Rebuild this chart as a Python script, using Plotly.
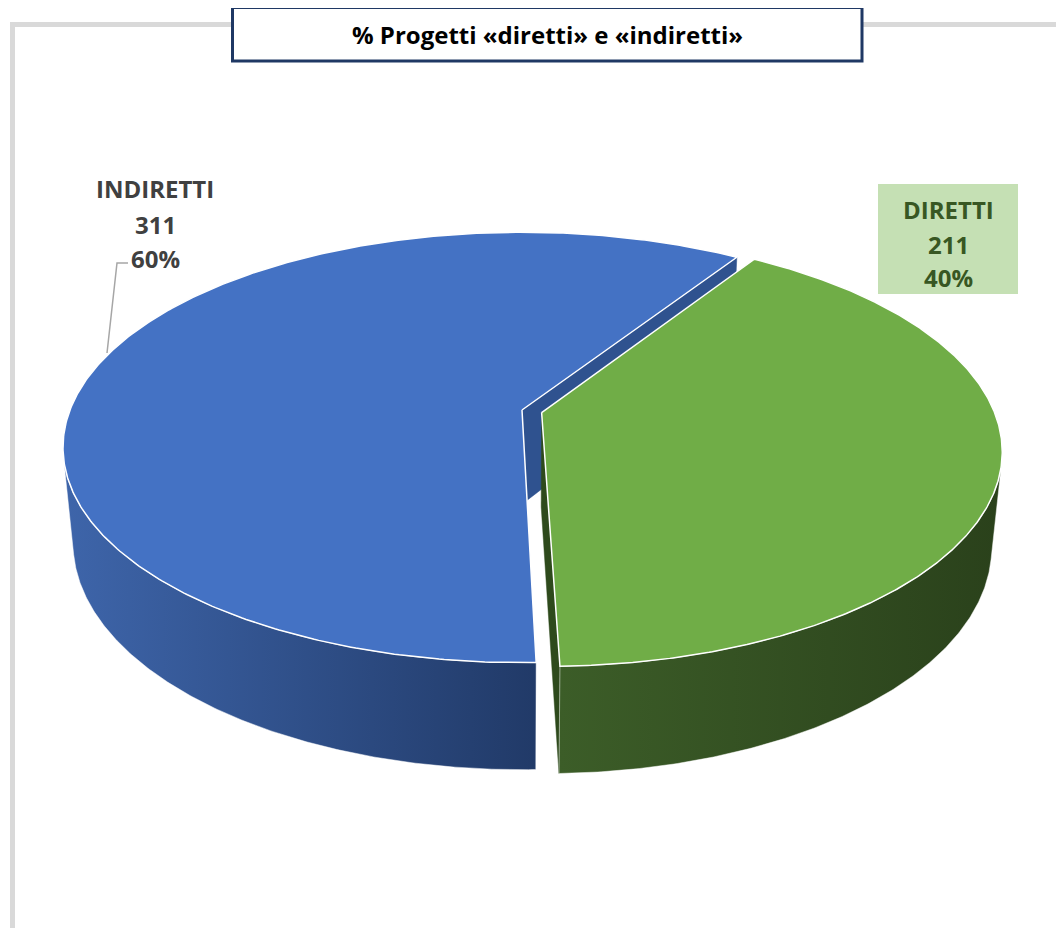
import numpy as np
import plotly.graph_objects as go

# ---------------- data ----------------
labels = ["DIRETTI", "INDIRETTI"]
values = [211, 311]
title_text = "% Progetti «diretti» e «indiretti»"

# ---------------- style ----------------
top_colors = ["#70AD47", "#4472C4"]
wall_colors = [["#3c5d28", "#2a411b"], ["#3e65aa", "#213a68"]]
face_colors = ["#2e4a1c", "#2f528f"]
explode = [0.045, 0.0]
first_angle = 33.0          # degrees, clockwise from the back

# projection constants (pixel space)
CX, CY, K = 522.0, 410.0, 452.0
ALPHA = np.radians(27.5)
DIST = 5.1
DEPTH = 0.24
W, H = 1064, 928
OFF = 8  # page body margin compensation

ca, sa = np.cos(ALPHA), np.sin(ALPHA)
CAM = np.array([0.0, -DIST * ca, DIST * sa])


def project(X, Y, Z):
    X = np.asarray(X, float); Y = np.asarray(Y, float); Z = np.asarray(Z, float)
    v = Z * ca + Y * sa
    d = Y * ca - Z * sa
    s = DIST / (DIST + d)
    return CX + K * X * s, CY - K * v * s


def rim(theta_deg, ox, oy, z):
    t = np.radians(theta_deg)
    return project(ox + np.sin(t), oy + np.cos(t), np.full_like(t, z, dtype=float))


total = float(sum(values))
spans = [360.0 * v / total for v in values]
starts = []
a = first_angle
for sp in spans:
    starts.append(a)
    a += sp

# visible wall range
cmax = -1.0 / (DIST * ca)
th_lo = np.degrees(np.arccos(cmax))
th_hi = 360.0 - th_lo

fig = go.Figure()


def add_poly(x, y, **kw):
    fig.add_trace(go.Scatter(x=list(x), y=list(y), mode="lines", fill="toself",
                             hoverinfo="skip", showlegend=False, **kw))


order = sorted(range(len(values)), key=lambda i: explode[i])
for i in order:
    a0, a1 = starts[i], starts[i] + spans[i]
    mid = np.radians((a0 + a1) / 2)
    ox, oy = explode[i] * np.sin(mid), explode[i] * np.cos(mid)

    # radial faces
    for edge, sign in ((a1, 1.0), (a0, -1.0)):
        t = np.radians(edge)
        n = sign * np.array([np.cos(t), -np.sin(t), 0.0])
        if np.dot(CAM - np.array([ox, oy, 0.0]), n) > 0:
            px = [ox, ox + np.sin(t), ox + np.sin(t), ox]
            py = [oy, oy + np.cos(t), oy + np.cos(t), oy]
            pz = [0, 0, -DEPTH, -DEPTH]
            fx, fy = project(px, py, pz)
            add_poly(np.append(fx, fx[0]), np.append(fy, fy[0]),
                     fillcolor=face_colors[i], line=dict(color=face_colors[i], width=0.5))

    # outer wall
    for shift in (0.0, 360.0, -360.0):
        lo = max(a0, th_lo + shift)
        hi = min(a1, th_hi + shift)
        if hi > lo:
            th = np.linspace(lo, hi, 200)
            tx, ty = rim(th, ox, oy, 0.0)
            bx, by = rim(th[::-1], ox, oy, -DEPTH)
            xs = np.concatenate([tx, bx, tx[:1]])
            ys = np.concatenate([ty, by, ty[:1]])
            add_poly(xs, ys, line=dict(color="rgba(255,255,255,0.6)", width=0.8),
                     fillgradient=dict(type="horizontal",
                                       colorscale=[[0, wall_colors[i][0]], [1, wall_colors[i][1]]]))

    # top face
    th = np.linspace(a0, a1, 400)
    tx, ty = rim(th, ox, oy, 0.0)
    cx0, cy0 = project([ox], [oy], [0.0])
    xs = np.concatenate([cx0, tx, cx0])
    ys = np.concatenate([cy0, ty, cy0])
    add_poly(xs, ys, fillcolor=top_colors[i], line=dict(color="white", width=1.5))

# ---------------- frame & title ----------------
shapes = [
    dict(type="line", x0=10, x1=W + OFF, y0=24.5, y1=24.5, line=dict(color="#d9d9d9", width=5)),
    dict(type="line", x0=12.5, x1=12.5, y0=22, y1=H + OFF, line=dict(color="#d9d9d9", width=5)),
    dict(type="rect", x0=232.5, x1=862, y0=7.5, y1=61, line=dict(color="#1f3864", width=3),
         fillcolor="white"),
    dict(type="rect", x0=878, x1=1018, y0=184, y1=294, line=dict(width=0), fillcolor="#c5e0b4"),
    dict(type="path", path="M 128 263 L 117 263 L 107 353", line=dict(color="#a6a6a6", width=1.5)),
]

pcts = [f"{round(100 * v / total)}%" for v in values]
annotations = [dict(x=547, y=34, text=f"<b>{title_text}</b>", showarrow=False,
                    font=dict(family="Open Sans", size=24, color="#000000"))]

label_pos = {0: (948, [209, 244, 277], "#385723"), 1: (155, [188, 224, 258], "#404040")}
for i in range(len(values)):
    x, ys, col = label_pos[i]
    for txt, yy in zip([labels[i], str(values[i]), pcts[i]], ys):
        annotations.append(dict(x=x, y=yy, text=f"<b>{txt}</b>", showarrow=False,
                                font=dict(family="Open Sans", size=24, color=col)))

fig.update_layout(
    width=W, height=H, margin=dict(l=0, r=0, t=0, b=0),
    paper_bgcolor="white", plot_bgcolor="white", showlegend=False,
    xaxis=dict(range=[OFF, W + OFF], visible=False, fixedrange=True),
    yaxis=dict(range=[H + OFF, OFF], visible=False, fixedrange=True),
    shapes=shapes, annotations=annotations,
)

fig.write_html("out.html")
